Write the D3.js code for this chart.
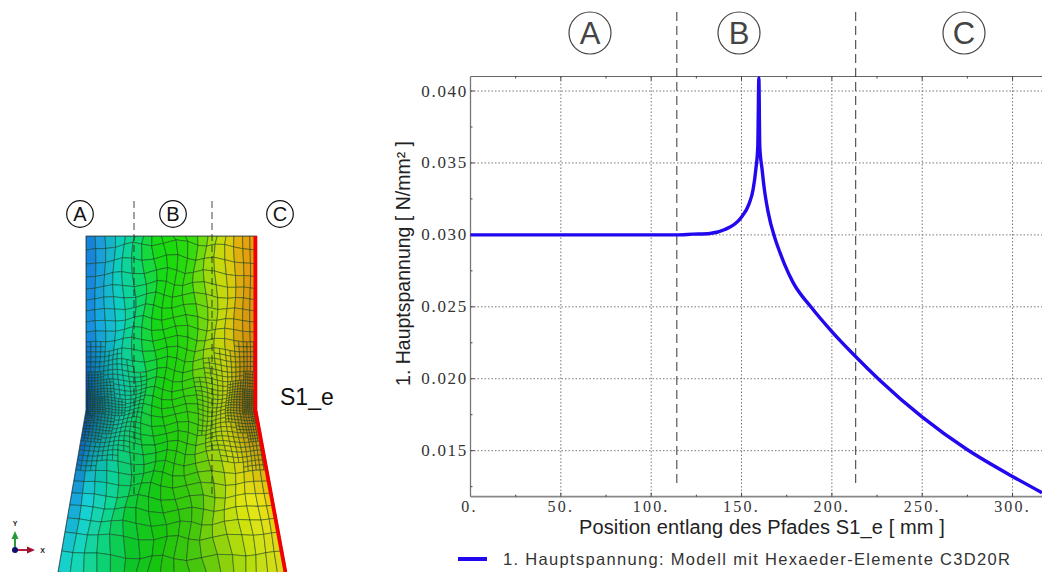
<!DOCTYPE html>
<html>
<head>
<meta charset="utf-8">
<script src="https://cdn.jsdelivr.net/npm/d3@7"></script>
<style>
  html, body { margin: 0; padding: 0; background: #fff; overflow: hidden; }
  svg { display: block; }
</style>
</head>
<body>
<div id="chart"></div>
<script>
// curve: position along S1_e [mm], 1st principal stress [N/mm2]
var positions = [0, 50, 100, 114, 123, 132.5, 140.8, 149.6, 154, 156.4, 157.9, 159, 159.6, 160.1, 161.4, 162.5, 164.7, 168.4, 171.2, 174, 178.5, 188.7, 200, 212.7, 226.5, 249.9, 274.4, 300, 316.3];
var stresses = [0.03, 0.03, 0.03, 0.03, 0.03005, 0.0301, 0.03037, 0.03118, 0.0321, 0.03315, 0.03454, 0.03614, 0.0409, 0.03614, 0.03454, 0.0333, 0.0316, 0.0298, 0.0288, 0.0279, 0.0267, 0.02495, 0.02328, 0.0216, 0.0199, 0.01735, 0.01512, 0.01321, 0.01208];

var xTicks = [0, 50, 100, 150, 200, 250, 300];
var xTickLabels = ["0.", "50.", "100.", "150.", "200.", "250.", "300."];
var xMinorTicks = [25, 75, 125, 175, 225, 275];
var yTicks = [0.015, 0.02, 0.025, 0.03, 0.035, 0.04];
var yMinorTicks = [0.0125, 0.0175, 0.0225, 0.0275, 0.0325, 0.0375];
var zoneBounds = [114.2, 213.2];

var xTitle = "Position entlang des Pfades S1_e [ mm ]";
var yTitle = "1. Hauptspannung [ N/mm\u00b2 ]";
var legendLabel = "1. Hauptspannung: Modell mit Hexaeder-Elemente C3D20R";
var zoneLabels = ["A", "B", "C"];

// FE model on the left
var meshRows = [236, 250, 264, 277, 289, 300, 311, 322, 332, 342, 352, 362, 372, 381, 390, 398, 406, 414, 423, 432, 441, 450, 460, 470, 481, 493, 505, 518, 532, 551, 572];
var meshCols = [0, 0.055, 0.11, 0.165, 0.22, 0.28, 0.34, 0.4, 0.46, 0.52, 0.58, 0.64, 0.7, 0.76, 0.82, 0.87, 0.92, 0.96, 1];
var colorCols = [0, 0.08, 0.2, 0.3, 0.42, 0.6, 0.72, 0.82, 0.92, 1];
var colorRowY = [236, 330, 405, 500, 572];
var colorsTop = ["#1276d8", "#1c98dc", "#10d0b8", "#10d878", "#14dc14", "#30dc08", "#98dc08", "#d8d808", "#e8a408", "#ec9c08"];
var colorsMid = ["#1484e0", "#14a8e0", "#10d0c0", "#10d870", "#14d814", "#30d808", "#98d808", "#d8d808", "#d89808", "#dc9008"];
var colorsNeck = ["#0c3ca8", "#0c6c98", "#10c0a8", "#10d078", "#14d014", "#30d008", "#90d008", "#c8c808", "#a87008", "#b86808"];
var colorsLow = ["#1490e0", "#14d0d8", "#10d890", "#10cc38", "#14c814", "#40c808", "#98d408", "#dce408", "#ece818", "#ecc808"];
var colorsBottom = ["#14d8d0", "#14d8b0", "#10d068", "#10c428", "#14c40c", "#40c408", "#84d008", "#a8dc08", "#c8dc18", "#dcdc18"];

var width = 1042, height = 572;

var svg = d3.select("#chart").append("svg")
  .attr("width", width)
  .attr("height", height)
  .style("font-family", "'Liberation Sans', sans-serif");

var defs = svg.append("defs");
defs.append("filter").attr("id", "soft")
  .append("feGaussianBlur").attr("stdDeviation", 0.45);

// ---- model ----
var edgeY = [236, 410, 572];
var leftEdge = d3.scaleLinear().domain(edgeY).range([86, 86, 58]);
var rightEdge = d3.scaleLinear().domain(edgeY).range([257, 257, 287]);

var colorProfiles = [colorsTop, colorsMid, colorsNeck, colorsLow, colorsBottom].map(function (c) {
  return d3.scaleLinear().domain(colorCols).range(c);
});

function cellColor(u, y) {
  var i = Math.min(d3.bisectRight(colorRowY, y) - 1, colorRowY.length - 2);
  var t = Math.max(0, Math.min(1, (y - colorRowY[i]) / (colorRowY[i + 1] - colorRowY[i])));
  return d3.interpolateRgb(colorProfiles[i](u), colorProfiles[i + 1](u))(t);
}

// mesh lines bend a little around the two notch points
function meshPoint(u, y) {
  var bow = Math.sin(Math.PI * u);
  var pull = (y - 406) / 170;
  var yy = y + 11 * bow * pull * (1 - Math.abs(pull) * 0.3) + 3 * bow * Math.sin(u * 23 + y * 0.07);
  var uu = u + 0.018 * Math.sin(y * 0.075 + u * 13) * bow;
  yy = y <= 236 ? 236 : yy;
  return [leftEdge(yy) + (rightEdge(yy) - leftEdge(yy)) * uu, yy];
}

function refineLevel(uMid, yMid) {
  var dx = Math.min(uMid, 1 - uMid) * 170;
  var d = Math.sqrt(dx * dx + (yMid - 406) * (yMid - 406));
  if (d < 16) return 4;
  if (d < 34) return 3;
  if (d < 62) return 2;
  return 1;
}

var cells = [];
d3.pairs(meshRows).forEach(function (r) {
  d3.pairs(meshCols).forEach(function (c) {
    var n = refineLevel((c[0] + c[1]) / 2, (r[0] + r[1]) / 2);
    d3.range(n).forEach(function (i) {
      d3.range(n).forEach(function (j) {
        cells.push({
          u0: c[0] + (c[1] - c[0]) * j / n,
          u1: c[0] + (c[1] - c[0]) * (j + 1) / n,
          y0: r[0] + (r[1] - r[0]) * i / n,
          y1: r[0] + (r[1] - r[0]) * (i + 1) / n
        });
      });
    });
  });
});

defs.append("clipPath").attr("id", "modelClip")
  .append("path")
  .attr("d", d3.line()(edgeY.map(function (y) { return [leftEdge(y), y]; })
    .concat(edgeY.slice().reverse().map(function (y) { return [rightEdge(y), y]; }))) + "Z");

var model = svg.append("g")
  .attr("clip-path", "url(#modelClip)")
  .append("g")
  .attr("filter", "url(#soft)");

model.selectAll(".cell")
  .data(cells)
  .enter().append("path")
  .attr("class", "cell")
  .attr("d", function (d) {
    return d3.line()([
      meshPoint(d.u0, d.y0), meshPoint(d.u1, d.y0),
      meshPoint(d.u1, d.y1), meshPoint(d.u0, d.y1)
    ]) + "Z";
  })
  .attr("fill", function (d) { return cellColor((d.u0 + d.u1) / 2, (d.y0 + d.y1) / 2); })
  .attr("stroke", "#103a1c")
  .attr("stroke-opacity", 0.68)
  .attr("stroke-width", 0.75);

// left outline and loaded edge
svg.append("path")
  .attr("d", d3.line()(edgeY.map(function (y) { return [leftEdge(y), y]; })))
  .attr("fill", "none").attr("stroke", "#1a3a50").attr("stroke-width", 0.8);
svg.append("path")
  .attr("d", d3.line()([[86, 236], [257, 236]]))
  .attr("stroke", "#30403a").attr("stroke-width", 0.8);
svg.append("path")
  .attr("d", d3.line()(edgeY.map(function (y) { return [rightEdge(y) - 1.6, y]; })))
  .attr("fill", "none").attr("stroke", "#f00000").attr("stroke-width", 3.8);

// zone dividers on the model
[134, 212].forEach(function (x) {
  svg.append("line")
    .attr("x1", x).attr("x2", x).attr("y1", 201).attr("y2", 494)
    .attr("stroke", "#222").attr("stroke-width", 1.1)
    .attr("stroke-dasharray", "7,4").attr("opacity", 0.75);
});

function circledLetter(cx, cy, r, size, letter, color) {
  svg.append("circle")
    .attr("cx", cx).attr("cy", cy).attr("r", r)
    .attr("fill", "#fff").attr("stroke", color).attr("stroke-width", 1.2);
  svg.append("text")
    .attr("x", cx).attr("y", cy + size * 0.36)
    .attr("text-anchor", "middle")
    .style("font-size", size + "px")
    .attr("fill", color)
    .text(letter);
}
[80, 173, 280].forEach(function (cx, i) {
  circledLetter(cx, 214, 13.3, 20, zoneLabels[i], "#111");
});

svg.append("text")
  .attr("x", 280).attr("y", 405)
  .style("font-size", "23px").attr("fill", "#111")
  .text("S1_e");

// coordinate triad
svg.append("line").attr("x1", 15).attr("x2", 15).attr("y1", 550).attr("y2", 537)
  .attr("stroke", "#2a9a3a").attr("stroke-width", 2);
svg.append("path").attr("d", "M15,531L11.5,539L18.5,539Z").attr("fill", "#2a9a3a");
svg.append("line").attr("x1", 15).attr("x2", 29).attr("y1", 550).attr("y2", 550)
  .attr("stroke", "#b02040").attr("stroke-width", 2);
svg.append("path").attr("d", "M35,550L27,546.5L27,553.5Z").attr("fill", "#a01030");
svg.append("circle").attr("cx", 15).attr("cy", 550).attr("r", 3).attr("fill", "#101070");
svg.append("text").attr("x", 15).attr("y", 526).attr("text-anchor", "middle")
  .style("font-size", "7px").style("font-weight", "bold").attr("fill", "#222").text("Y");
svg.append("text").attr("x", 42.5).attr("y", 553).attr("text-anchor", "middle")
  .style("font-size", "7px").style("font-weight", "bold").attr("fill", "#222").text("X");

// ---- plot ----
var x = d3.scaleLinear().domain([0, 316.3]).range([470.5, 1042]);
var y = d3.scaleLinear().domain([0.015, 0.04]).range([450.7, 91]);
var yBottom = 496.7, yTop = 76.5;

var grid = svg.append("g")
  .attr("stroke", "#777")
  .attr("stroke-width", 1)
  .attr("stroke-dasharray", "1.5,2");
grid.selectAll(".vgrid")
  .data(xTicks.slice(1))
  .enter().append("line")
  .attr("class", "vgrid")
  .attr("x1", function (d) { return x(d); })
  .attr("x2", function (d) { return x(d); })
  .attr("y1", yTop).attr("y2", yBottom);
grid.selectAll(".hgrid")
  .data(yTicks)
  .enter().append("line")
  .attr("class", "hgrid")
  .attr("x1", x(0)).attr("x2", width)
  .attr("y1", function (d) { return y(d); })
  .attr("y2", function (d) { return y(d); });

// frame
svg.append("line").attr("x1", x(0)).attr("x2", width).attr("y1", yTop).attr("y2", yTop)
  .attr("stroke", "#666").attr("stroke-width", 1);
svg.append("line").attr("x1", x(0)).attr("x2", x(0)).attr("y1", yTop).attr("y2", yBottom)
  .attr("stroke", "#777").attr("stroke-width", 1.3);
svg.append("line").attr("x1", x(0)).attr("x2", width).attr("y1", yBottom).attr("y2", yBottom)
  .attr("stroke", "#888").attr("stroke-width", 1.8);

// tick marks on all frame sides
var tickG = svg.append("g").attr("stroke", "#444").attr("stroke-width", 1);
xTicks.slice(1).forEach(function (d) {
  tickG.append("line").attr("x1", x(d)).attr("x2", x(d)).attr("y1", yBottom - 4).attr("y2", yBottom);
  tickG.append("line").attr("x1", x(d)).attr("x2", x(d)).attr("y1", yTop).attr("y2", yTop + 4);
});
xMinorTicks.forEach(function (d) {
  tickG.append("line").attr("x1", x(d)).attr("x2", x(d)).attr("y1", yBottom - 2).attr("y2", yBottom);
  tickG.append("line").attr("x1", x(d)).attr("x2", x(d)).attr("y1", yTop).attr("y2", yTop + 2);
});
yTicks.forEach(function (d) {
  tickG.append("line").attr("x1", x(0)).attr("x2", x(0) + 4).attr("y1", y(d)).attr("y2", y(d));
});
yMinorTicks.forEach(function (d) {
  tickG.append("line").attr("x1", x(0)).attr("x2", x(0) + 2).attr("y1", y(d)).attr("y2", y(d));
});

// tick labels
svg.selectAll(".ylab")
  .data(yTicks)
  .enter().append("text")
  .attr("class", "ylab")
  .attr("x", 468)
  .attr("y", function (d) { return y(d) + 5.5; })
  .attr("text-anchor", "end")
  .style("font-family", "'Liberation Serif', serif")
  .style("font-size", "17px")
  .style("letter-spacing", "1.7px")
  .attr("fill", "#333")
  .text(function (d) { return d3.format(".3f")(d); });

svg.selectAll(".xlab")
  .data(xTicks)
  .enter().append("text")
  .attr("class", "xlab")
  .attr("x", function (d) { return x(d) - (d === 0 ? 1 : 0); })
  .attr("y", 511.5)
  .attr("text-anchor", "middle")
  .style("font-family", "'Liberation Serif', serif")
  .style("font-size", "16px")
  .style("letter-spacing", "2.2px")
  .attr("fill", "#333")
  .text(function (d, i) { return xTickLabels[i]; });

// axis titles
svg.append("text")
  .attr("x", 762).attr("y", 534)
  .attr("text-anchor", "middle")
  .style("font-size", "20px")
  .style("letter-spacing", "0.12px")
  .attr("fill", "#222")
  .text(xTitle);
svg.append("text")
  .attr("transform", "translate(410,263.5)rotate(-90)")
  .attr("text-anchor", "middle")
  .style("font-size", "19.5px")
  .attr("fill", "#222")
  .text(yTitle);

// zone dashed lines
svg.selectAll(".zone")
  .data(zoneBounds)
  .enter().append("line")
  .attr("class", "zone")
  .attr("x1", function (d) { return x(d); })
  .attr("x2", function (d) { return x(d); })
  .attr("y1", 12).attr("y2", 488)
  .attr("stroke", "#333")
  .attr("stroke-width", 1)
  .attr("stroke-dasharray", "9,5");

[590, 739, 964].forEach(function (cx, i) {
  circledLetter(cx, 33, 21, 31, zoneLabels[i], "#444");
});

// the curve
var line = d3.line()
  .x(function (d) { return x(d[0]); })
  .y(function (d) { return y(d[1]); })
  .curve(d3.curveMonotoneX);

svg.append("path")
  .datum(d3.zip(positions, stresses))
  .attr("d", line)
  .attr("fill", "none")
  .attr("stroke", "#2208ee")
  .attr("stroke-width", 3.4)
  .attr("stroke-linejoin", "round");

// legend
svg.append("line")
  .attr("x1", 458).attr("x2", 487).attr("y1", 559).attr("y2", 559)
  .attr("stroke", "#2208ee").attr("stroke-width", 4);
svg.append("text")
  .attr("x", 503).attr("y", 565)
  .attr("textLength", 507)
  .attr("lengthAdjust", "spacing")
  .style("font-size", "16.5px")
  .attr("fill", "#333")
  .text(legendLabel);
</script>
</body>
</html>
